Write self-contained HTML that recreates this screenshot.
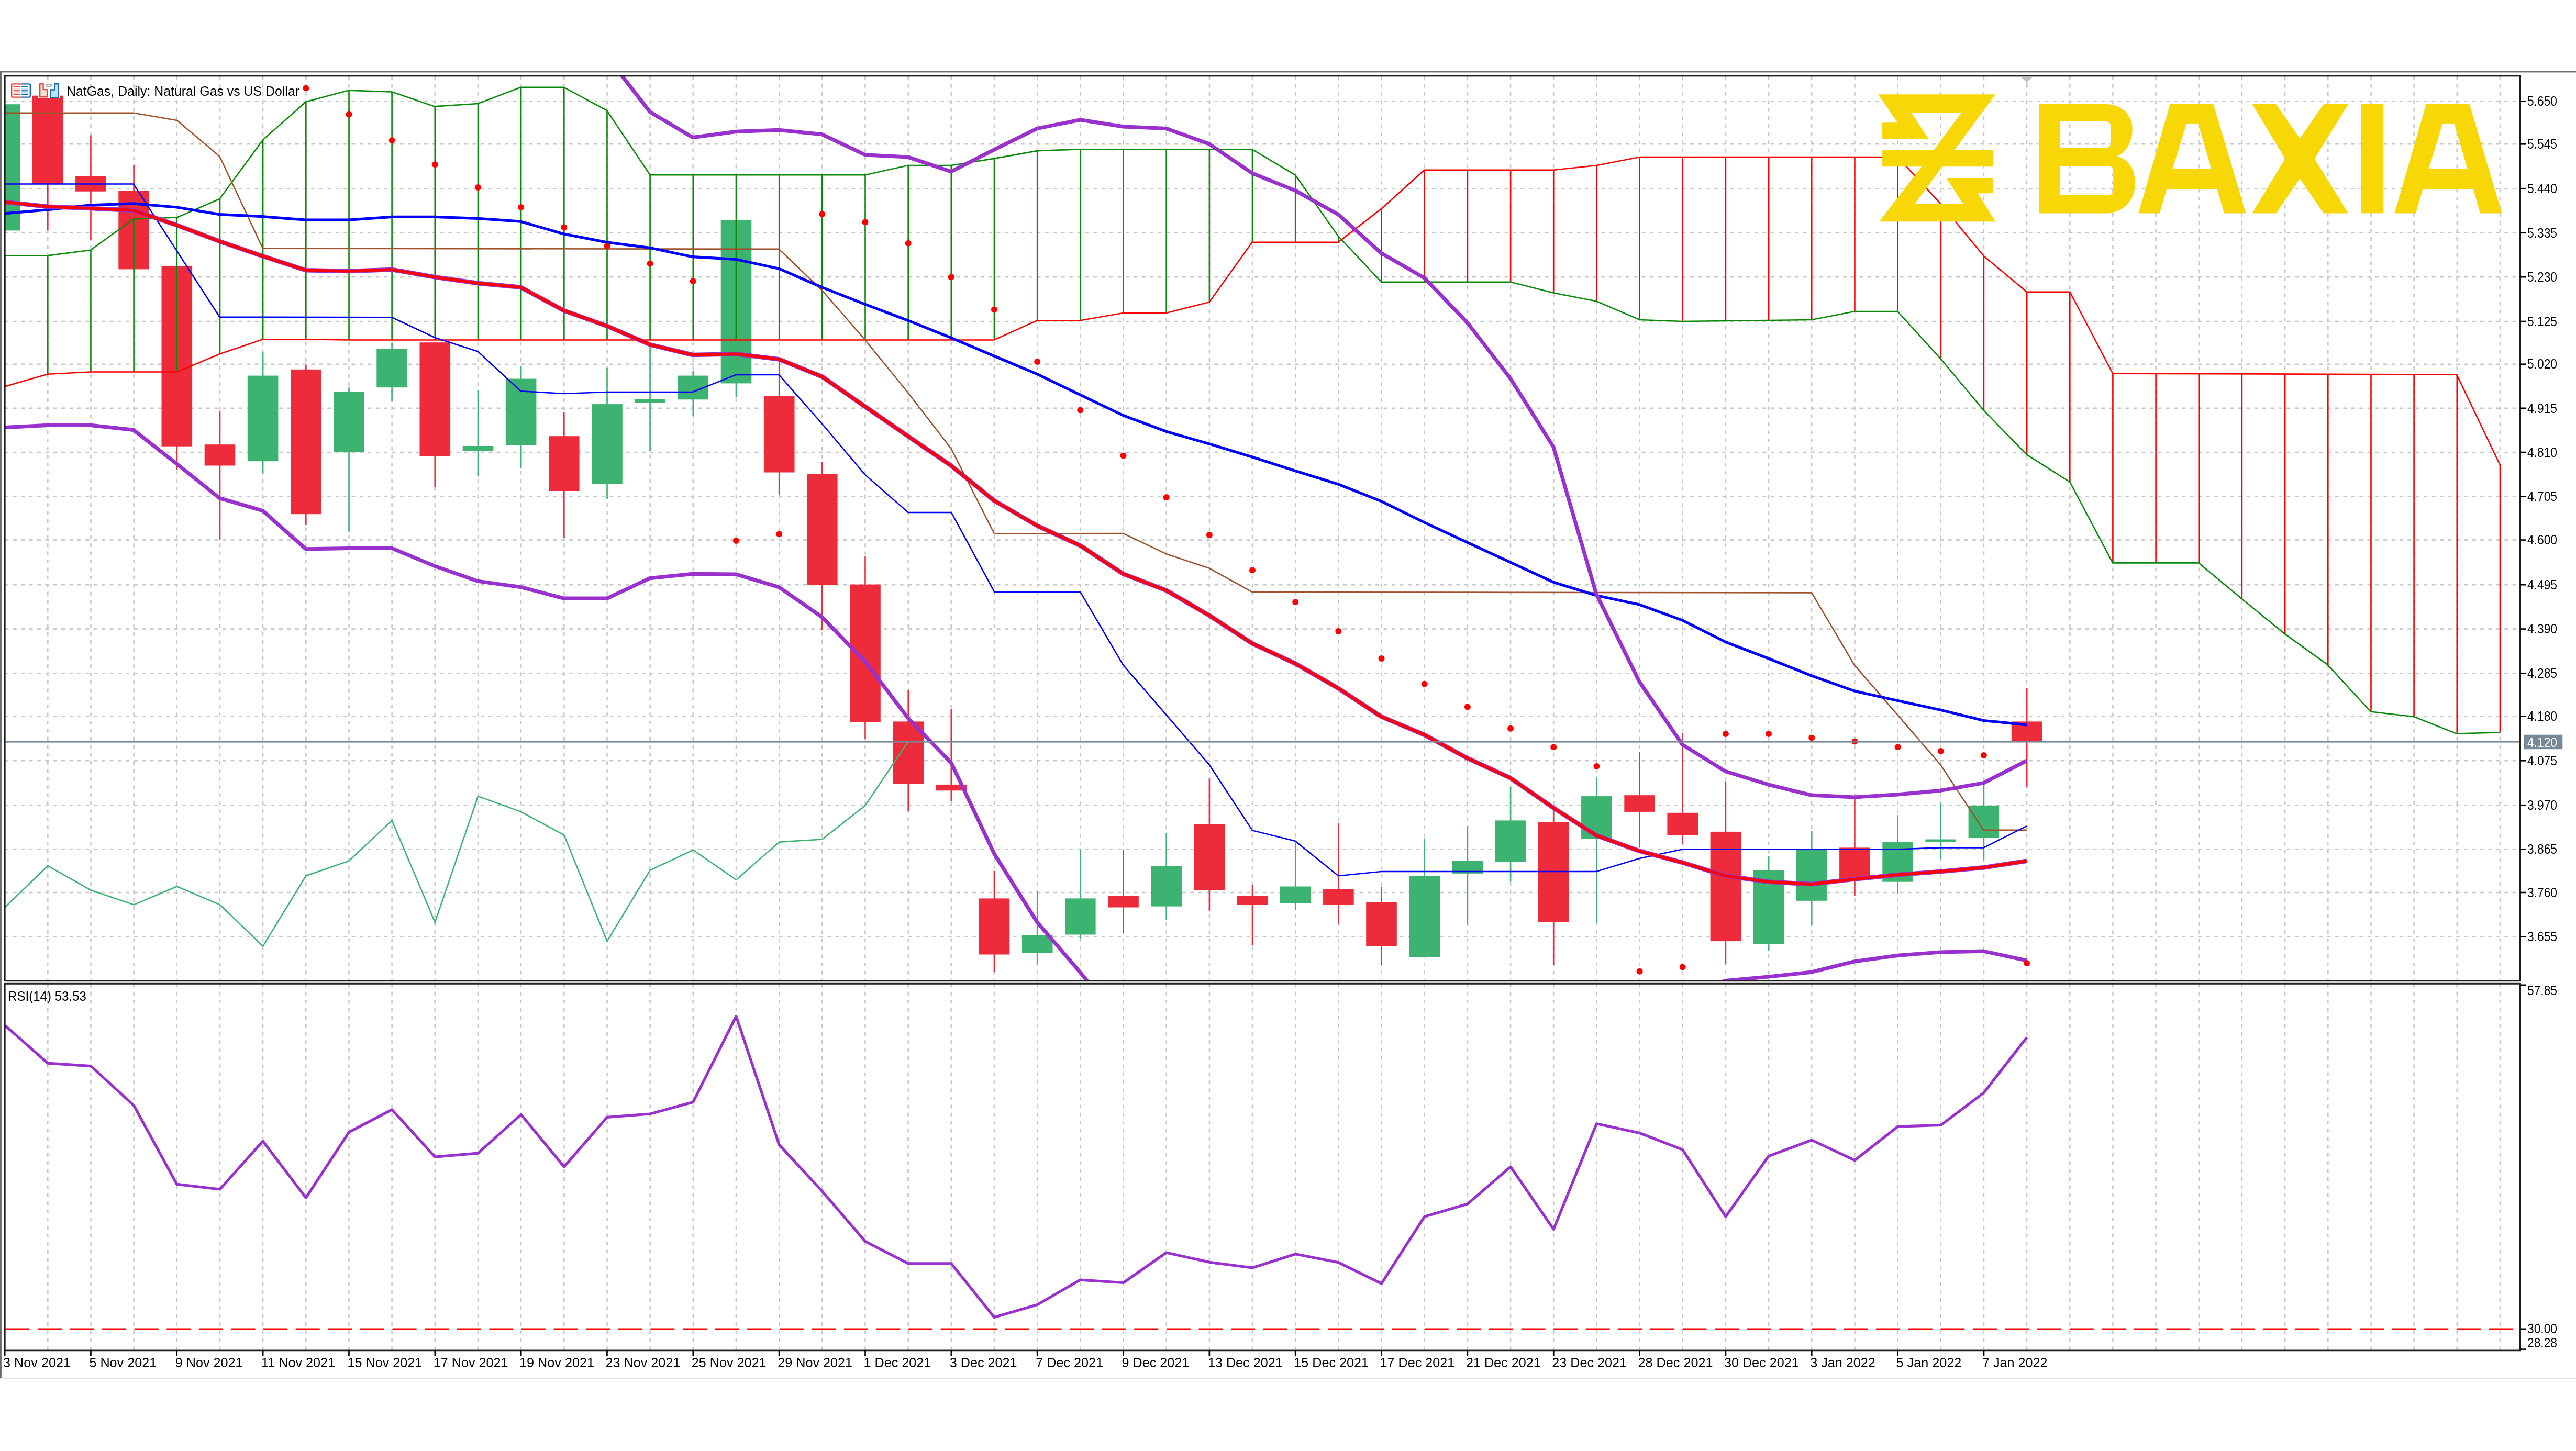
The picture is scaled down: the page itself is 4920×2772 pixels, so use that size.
<!DOCTYPE html><html><head><meta charset="utf-8"><style>html,body{margin:0;padding:0;background:#fff;}svg{display:block;filter:blur(0.6px)}</style></head><body><svg width="4920" height="2772" viewBox="0 0 4920 2772"><rect x="0" y="0" width="4920" height="2772" fill="#fff"/><defs><clipPath id="cm"><rect x="9.3" y="145.0" width="4804.0" height="1728.8"/></clipPath><clipPath id="cr"><rect x="9.3" y="1879.4" width="4804.0" height="700.5"/></clipPath></defs><rect x="0" y="135.8" width="4920" height="2.6" fill="#6A6A6A"/><rect x="0" y="135.8" width="2.9" height="2496.2" fill="#6A6A6A"/><rect x="0" y="2632.1" width="4920" height="2.5" fill="#E0E0E0"/><path d="M91.3 145.0V1873.8M91.3 1879.4V2579.9M173.4 145.0V1873.8M173.4 1879.4V2579.9M255.6 145.0V1873.8M255.6 1879.4V2579.9M337.8 145.0V1873.8M337.8 1879.4V2579.9M420.0 145.0V1873.8M420.0 1879.4V2579.9M502.1 145.0V1873.8M502.1 1879.4V2579.9M584.3 145.0V1873.8M584.3 1879.4V2579.9M666.5 145.0V1873.8M666.5 1879.4V2579.9M748.6 145.0V1873.8M748.6 1879.4V2579.9M830.8 145.0V1873.8M830.8 1879.4V2579.9M913.0 145.0V1873.8M913.0 1879.4V2579.9M995.1 145.0V1873.8M995.1 1879.4V2579.9M1077.3 145.0V1873.8M1077.3 1879.4V2579.9M1159.5 145.0V1873.8M1159.5 1879.4V2579.9M1241.6 145.0V1873.8M1241.6 1879.4V2579.9M1323.8 145.0V1873.8M1323.8 1879.4V2579.9M1406.0 145.0V1873.8M1406.0 1879.4V2579.9M1488.2 145.0V1873.8M1488.2 1879.4V2579.9M1570.3 145.0V1873.8M1570.3 1879.4V2579.9M1652.5 145.0V1873.8M1652.5 1879.4V2579.9M1734.7 145.0V1873.8M1734.7 1879.4V2579.9M1816.8 145.0V1873.8M1816.8 1879.4V2579.9M1899.0 145.0V1873.8M1899.0 1879.4V2579.9M1981.2 145.0V1873.8M1981.2 1879.4V2579.9M2063.3 145.0V1873.8M2063.3 1879.4V2579.9M2145.5 145.0V1873.8M2145.5 1879.4V2579.9M2227.7 145.0V1873.8M2227.7 1879.4V2579.9M2309.9 145.0V1873.8M2309.9 1879.4V2579.9M2392.0 145.0V1873.8M2392.0 1879.4V2579.9M2474.2 145.0V1873.8M2474.2 1879.4V2579.9M2556.4 145.0V1873.8M2556.4 1879.4V2579.9M2638.5 145.0V1873.8M2638.5 1879.4V2579.9M2720.7 145.0V1873.8M2720.7 1879.4V2579.9M2802.9 145.0V1873.8M2802.9 1879.4V2579.9M2885.1 145.0V1873.8M2885.1 1879.4V2579.9M2967.2 145.0V1873.8M2967.2 1879.4V2579.9M3049.4 145.0V1873.8M3049.4 1879.4V2579.9M3131.6 145.0V1873.8M3131.6 1879.4V2579.9M3213.7 145.0V1873.8M3213.7 1879.4V2579.9M3295.9 145.0V1873.8M3295.9 1879.4V2579.9M3378.1 145.0V1873.8M3378.1 1879.4V2579.9M3460.2 145.0V1873.8M3460.2 1879.4V2579.9M3542.4 145.0V1873.8M3542.4 1879.4V2579.9M3624.6 145.0V1873.8M3624.6 1879.4V2579.9M3706.8 145.0V1873.8M3706.8 1879.4V2579.9M3788.9 145.0V1873.8M3788.9 1879.4V2579.9M3871.1 145.0V1873.8M3871.1 1879.4V2579.9M3953.3 145.0V1873.8M3953.3 1879.4V2579.9M4035.4 145.0V1873.8M4035.4 1879.4V2579.9M4117.6 145.0V1873.8M4117.6 1879.4V2579.9M4199.8 145.0V1873.8M4199.8 1879.4V2579.9M4281.9 145.0V1873.8M4281.9 1879.4V2579.9M4364.1 145.0V1873.8M4364.1 1879.4V2579.9M4446.3 145.0V1873.8M4446.3 1879.4V2579.9M4528.5 145.0V1873.8M4528.5 1879.4V2579.9M4610.6 145.0V1873.8M4610.6 1879.4V2579.9M4692.8 145.0V1873.8M4692.8 1879.4V2579.9M4775.0 145.0V1873.8M4775.0 1879.4V2579.9" stroke="#C8C8C8" stroke-width="2.6" stroke-dasharray="7 8.4" fill="none"/><path d="M9.3 193.7H4813.3M9.3 275.3H4813.3M9.3 360.2H4813.3M9.3 444.8H4813.3M9.3 529.2H4813.3M9.3 614.0H4813.3M9.3 695.7H4813.3M9.3 779.8H4813.3M9.3 864.0H4813.3M9.3 948.7H4813.3M9.3 1031.6H4813.3M9.3 1117.2H4813.3M9.3 1201.6H4813.3M9.3 1286.5H4813.3M9.3 1368.7H4813.3M9.3 1453.3H4813.3M9.3 1538.2H4813.3M9.3 1622.5H4813.3M9.3 1705.0H4813.3M9.3 1789.3H4813.3" stroke="#C8C8C8" stroke-width="2.6" stroke-dasharray="7 8.4" fill="none"/><g clip-path="url(#cm)"><rect x="7.8" y="199.2" width="2.6" height="241.2" fill="#3CB371"/><rect x="-20.2" y="199.2" width="58.6" height="241.2" fill="#3CB371"/><rect x="90.0" y="182.7" width="2.6" height="256.5" fill="#ED2B3A"/><rect x="62.0" y="182.7" width="58.6" height="168.8" fill="#ED2B3A"/><rect x="172.1" y="258.5" width="2.6" height="199.6" fill="#ED2B3A"/><rect x="144.1" y="336.7" width="58.6" height="29.0" fill="#ED2B3A"/><rect x="254.3" y="314.8" width="2.6" height="199.6" fill="#ED2B3A"/><rect x="226.3" y="364.0" width="58.6" height="150.4" fill="#ED2B3A"/><rect x="336.5" y="507.9" width="2.6" height="389.3" fill="#ED2B3A"/><rect x="308.5" y="507.9" width="58.6" height="344.8" fill="#ED2B3A"/><rect x="418.7" y="785.8" width="2.6" height="245.8" fill="#ED2B3A"/><rect x="390.7" y="849.2" width="58.6" height="40.3" fill="#ED2B3A"/><rect x="500.8" y="673.2" width="2.6" height="231.1" fill="#3CB371"/><rect x="472.8" y="717.6" width="58.6" height="163.6" fill="#3CB371"/><rect x="583.0" y="697.0" width="2.6" height="306.1" fill="#ED2B3A"/><rect x="555.0" y="705.8" width="58.6" height="276.4" fill="#ED2B3A"/><rect x="665.2" y="739.6" width="2.6" height="276.2" fill="#3CB371"/><rect x="637.2" y="748.5" width="58.6" height="115.5" fill="#3CB371"/><rect x="747.3" y="655.0" width="2.6" height="111.2" fill="#3CB371"/><rect x="719.3" y="666.7" width="58.6" height="73.5" fill="#3CB371"/><rect x="829.5" y="654.2" width="2.6" height="276.8" fill="#ED2B3A"/><rect x="801.5" y="654.2" width="58.6" height="217.5" fill="#ED2B3A"/><rect x="911.7" y="745.5" width="2.6" height="164.7" fill="#3CB371"/><rect x="883.7" y="852.0" width="58.6" height="9.0" fill="#3CB371"/><rect x="993.8" y="700.0" width="2.6" height="194.2" fill="#3CB371"/><rect x="965.8" y="723.6" width="58.6" height="127.4" fill="#3CB371"/><rect x="1076.0" y="787.6" width="2.6" height="240.2" fill="#ED2B3A"/><rect x="1048.0" y="833.2" width="58.6" height="104.8" fill="#ED2B3A"/><rect x="1158.2" y="702.8" width="2.6" height="250.0" fill="#3CB371"/><rect x="1130.2" y="772.1" width="58.6" height="152.9" fill="#3CB371"/><rect x="1240.3" y="655.0" width="2.6" height="206.0" fill="#3CB371"/><rect x="1212.3" y="762.0" width="58.6" height="7.0" fill="#3CB371"/><rect x="1322.5" y="708.8" width="2.6" height="85.9" fill="#3CB371"/><rect x="1294.5" y="717.6" width="58.6" height="45.7" fill="#3CB371"/><rect x="1404.7" y="420.2" width="2.6" height="338.9" fill="#3CB371"/><rect x="1376.7" y="420.2" width="58.6" height="312.2" fill="#3CB371"/><rect x="1486.9" y="688.0" width="2.6" height="257.7" fill="#ED2B3A"/><rect x="1458.9" y="756.2" width="58.6" height="146.3" fill="#ED2B3A"/><rect x="1569.0" y="882.3" width="2.6" height="321.8" fill="#ED2B3A"/><rect x="1541.0" y="905.5" width="58.6" height="211.7" fill="#ED2B3A"/><rect x="1651.2" y="1062.7" width="2.6" height="348.7" fill="#ED2B3A"/><rect x="1623.2" y="1116.6" width="58.6" height="263.1" fill="#ED2B3A"/><rect x="1733.4" y="1318.2" width="2.6" height="231.4" fill="#ED2B3A"/><rect x="1705.4" y="1378.4" width="58.6" height="119.2" fill="#ED2B3A"/><rect x="1815.5" y="1354.3" width="2.6" height="176.3" fill="#ED2B3A"/><rect x="1787.5" y="1498.9" width="58.6" height="11.4" fill="#ED2B3A"/><rect x="1897.7" y="1663.7" width="2.6" height="193.4" fill="#ED2B3A"/><rect x="1869.7" y="1716.4" width="58.6" height="107.1" fill="#ED2B3A"/><rect x="1979.9" y="1701.8" width="2.6" height="139.5" fill="#3CB371"/><rect x="1951.9" y="1786.1" width="58.6" height="34.9" fill="#3CB371"/><rect x="2062.0" y="1622.5" width="2.6" height="171.2" fill="#3CB371"/><rect x="2034.0" y="1716.4" width="58.6" height="69.1" fill="#3CB371"/><rect x="2144.2" y="1622.5" width="2.6" height="160.4" fill="#ED2B3A"/><rect x="2116.2" y="1711.3" width="58.6" height="22.2" fill="#ED2B3A"/><rect x="2226.4" y="1590.8" width="2.6" height="166.8" fill="#3CB371"/><rect x="2198.4" y="1654.2" width="58.6" height="77.4" fill="#3CB371"/><rect x="2308.6" y="1487.5" width="2.6" height="252.3" fill="#ED2B3A"/><rect x="2280.6" y="1575.0" width="58.6" height="125.5" fill="#ED2B3A"/><rect x="2390.7" y="1690.4" width="2.6" height="116.0" fill="#ED2B3A"/><rect x="2362.7" y="1711.3" width="58.6" height="17.1" fill="#ED2B3A"/><rect x="2472.9" y="1609.8" width="2.6" height="128.8" fill="#3CB371"/><rect x="2444.9" y="1693.5" width="58.6" height="32.4" fill="#3CB371"/><rect x="2555.1" y="1571.8" width="2.6" height="193.4" fill="#ED2B3A"/><rect x="2527.1" y="1698.6" width="58.6" height="29.8" fill="#ED2B3A"/><rect x="2637.2" y="1694.2" width="2.6" height="149.0" fill="#ED2B3A"/><rect x="2609.2" y="1724.0" width="58.6" height="83.6" fill="#ED2B3A"/><rect x="2719.4" y="1601.6" width="2.6" height="227.0" fill="#3CB371"/><rect x="2691.4" y="1673.2" width="58.6" height="155.4" fill="#3CB371"/><rect x="2801.6" y="1578.1" width="2.6" height="188.3" fill="#3CB371"/><rect x="2773.6" y="1644.7" width="58.6" height="24.1" fill="#3CB371"/><rect x="2883.8" y="1504.0" width="2.6" height="180.6" fill="#3CB371"/><rect x="2855.8" y="1567.4" width="58.6" height="78.6" fill="#3CB371"/><rect x="2965.9" y="1543.3" width="2.6" height="299.9" fill="#ED2B3A"/><rect x="2937.9" y="1570.5" width="58.6" height="191.5" fill="#ED2B3A"/><rect x="3048.1" y="1485.0" width="2.6" height="278.9" fill="#3CB371"/><rect x="3020.1" y="1521.1" width="58.6" height="81.1" fill="#3CB371"/><rect x="3130.3" y="1436.8" width="2.6" height="182.6" fill="#ED2B3A"/><rect x="3102.3" y="1519.2" width="58.6" height="31.7" fill="#ED2B3A"/><rect x="3212.4" y="1400.6" width="2.6" height="212.4" fill="#ED2B3A"/><rect x="3184.4" y="1552.8" width="58.6" height="42.5" fill="#ED2B3A"/><rect x="3294.6" y="1492.6" width="2.6" height="348.7" fill="#ED2B3A"/><rect x="3266.6" y="1588.9" width="58.6" height="209.2" fill="#ED2B3A"/><rect x="3376.8" y="1635.2" width="2.6" height="180.7" fill="#3CB371"/><rect x="3348.8" y="1662.5" width="58.6" height="140.7" fill="#3CB371"/><rect x="3458.9" y="1587.7" width="2.6" height="180.6" fill="#3CB371"/><rect x="3430.9" y="1623.8" width="58.6" height="97.0" fill="#3CB371"/><rect x="3541.1" y="1524.3" width="2.6" height="187.0" fill="#ED2B3A"/><rect x="3513.1" y="1619.4" width="58.6" height="61.5" fill="#ED2B3A"/><rect x="3623.3" y="1557.2" width="2.6" height="150.9" fill="#3CB371"/><rect x="3595.3" y="1608.6" width="58.6" height="76.1" fill="#3CB371"/><rect x="3705.4" y="1533.8" width="2.6" height="107.7" fill="#3CB371"/><rect x="3677.4" y="1603.5" width="58.6" height="4.5" fill="#3CB371"/><rect x="3787.6" y="1498.9" width="2.6" height="144.5" fill="#3CB371"/><rect x="3759.6" y="1538.8" width="58.6" height="61.5" fill="#3CB371"/><rect x="3869.8" y="1315.0" width="2.6" height="189.0" fill="#ED2B3A"/><rect x="3841.8" y="1378.4" width="58.6" height="38.1" fill="#ED2B3A"/><path d="M9.1 488.4V738.4M91.3 488.4V714.7M173.4 477.4V710.5M255.6 418.5V710.5M337.8 415.5V710.5M420.0 379.4V676.0M502.1 267.3V648.3M584.3 194.4V648.3M666.5 172.6V649.5M748.6 175.5V649.5M830.8 203.3V649.5M913.0 197.9V649.5M995.1 166.7V649.5M1077.3 167.0V649.5M1159.5 211.8V649.5M1241.6 334.3V649.5M1323.8 334.3V649.5M1406.0 334.3V649.5M1488.2 334.3V649.5M1570.3 334.3V649.5M1652.5 334.3V649.5M1734.7 316.0V649.5M1816.8 315.9V649.5M1899.0 302.8V649.3M1981.2 288.1V612.2M2063.3 285.2V612.2M2145.5 285.2V598.0M2227.7 285.2V597.9M2309.9 285.2V577.0M2392.0 285.6V462.9M2474.2 334.9V462.9M2556.4 451.6V462.5" stroke="#0A8A0A" stroke-width="2.6" fill="none"/><path d="M2638.5 398.6V538.7M2720.7 324.8V538.7M2802.9 324.8V538.7M2885.1 324.8V538.7M2967.2 324.8V559.5M3049.4 316.0V575.5M3131.6 300.0V610.9M3213.7 300.0V614.0M3295.9 300.0V613.0M3378.1 300.0V612.0M3460.2 300.0V610.9M3542.4 300.0V595.0M3624.6 300.3V595.3M3706.8 389.6V685.8M3788.9 489.0V784.1M3871.1 557.7V868.7M3953.3 557.7V920.8M4035.4 713.5V1075.4M4117.6 713.8V1075.4M4199.8 714.0V1075.8M4281.9 714.3V1144.1M4364.1 714.6V1211.3M4446.3 714.8V1270.9M4528.5 715.1V1359.7M4610.6 715.3V1369.2M4692.8 717.0V1401.6M4775.0 888.4V1399.2" stroke="#FF0000" stroke-width="2.6" fill="none"/><polyline points="9.0,488.4 91.0,488.4 173.0,477.7 255.0,418.5 338.0,415.5 419.5,380.0 502.0,267.4 584.0,194.5 666.0,172.6 748.6,175.5 830.0,203.4 912.7,198.0 994.4,166.7 1076.8,166.7 1159.0,211.1 1241.5,334.3 1323.0,334.3 1406.0,334.3 1487.6,334.3 1570.0,334.3 1652.4,334.3 1734.1,316.0 1816.5,316.0 1898.5,302.9 1980.9,288.1 2063.2,285.2 2145.0,285.2 2227.3,285.2 2309.7,285.2 2391.4,285.2 2473.8,334.3 2555.8,451.0 2638.2,538.7 2720.5,538.7 2802.9,538.7 2885.2,538.7 2967.0,559.5 3049.3,575.5 3131.7,611.0 3213.2,614.0 3295.5,613.0 3377.9,612.0 3459.6,611.0 3542.0,595.0 3624.3,595.0 3706.1,685.0 3789.3,784.6 3871.1,868.7 3953.4,920.9 4035.1,1075.4 4117.5,1075.4 4199.3,1075.4 4281.7,1143.9 4363.6,1210.9 4445.1,1269.6 4527.8,1359.6 4610.6,1369.2 4692.1,1401.6 4775.5,1399.2" stroke="#0A8A0A" stroke-width="2.6" fill="none"/><polyline points="9.0,738.4 91.0,714.7 173.0,710.5 255.0,710.5 338.0,710.5 419.5,676.2 502.0,648.3 584.0,648.3 666.0,649.5 1898.5,649.5 1980.9,612.2 2063.2,612.2 2145.0,598.0 2227.3,598.0 2309.7,577.2 2391.4,462.9 2473.8,462.9 2555.8,462.9 2638.2,398.9 2720.5,324.8 2802.9,324.8 2885.2,324.8 2967.0,324.8 3049.3,316.0 3131.7,300.0 3213.2,300.0 3624.3,300.0 3706.1,388.8 3789.3,489.5 3871.1,557.7 3953.4,557.7 4035.2,713.5 4692.1,715.6 4775.5,889.5" stroke="#FF0000" stroke-width="2.6" fill="none"/><polyline points="9.0,215.8 255.0,215.8 338.0,230.0 419.5,298.8 502.0,474.7 1487.6,475.9 1570.0,554.7 1652.4,649.5 1734.1,750.2 1816.5,856.9 1899.0,1019.5 2145.3,1019.0 2227.7,1058.3 2309.5,1085.5 2391.9,1131.2 3460.1,1132.4 3541.9,1270.7 3624.3,1365.8 3706.1,1460.9 3788.5,1585.8 3870.9,1585.8" stroke="#A0522D" stroke-width="2.6" fill="none"/><polyline points="9.0,351.5 255.0,351.5 419.5,605.7 748.6,606.3 830.0,644.8 912.7,671.4 994.4,747.3 1076.8,752.0 1159.0,749.0 1323.0,749.0 1406.0,715.9 1487.6,715.9 1570.0,809.5 1652.4,907.2 1734.5,979.0 1817.0,979.0 1899.4,1131.2 2063.5,1131.2 2145.3,1270.7 2227.7,1365.8 2309.5,1460.9 2391.9,1586.4 2473.7,1606.7 2556.1,1673.2 2638.0,1665.0 3048.7,1665.0 3131.0,1640.0 3213.5,1622.5 3624.3,1622.5 3706.1,1619.4 3788.5,1619.4 3870.9,1578.1" stroke="#0000FF" stroke-width="2.6" fill="none"/><polyline points="9.1,1733.5 91.3,1654.2 173.4,1700.5 255.6,1728.4 337.8,1693.5 420.0,1728.4 502.1,1807.6 584.3,1673.2 666.5,1644.7 748.6,1567.4 830.8,1762.0 913.0,1521.1 995.1,1550.9 1077.3,1595.3 1159.5,1798.1 1241.6,1662.5 1323.8,1623.8 1406.0,1680.9 1488.2,1608.6 1570.3,1603.5 1652.5,1538.8 1734.7,1416.5" stroke="#3CB371" stroke-width="2.6" fill="none"/><polyline points="9.0,407.8 91.0,400.7 173.0,391.8 255.0,388.8 338.0,396.0 419.5,409.6 502.0,413.7 584.0,420.2 666.0,420.2 748.6,414.3 830.0,414.3 912.7,417.3 994.4,423.2 1076.8,446.9 1159.0,462.9 1241.5,473.5 1323.0,490.7 1406.0,495.5 1487.6,513.2 1570.0,548.8 1652.4,581.4 1734.1,612.2 1816.5,645.4 1898.5,680.0 1980.9,714.7 2063.2,754.4 2145.0,793.5 2227.3,824.3 2309.7,848.0 2391.4,872.9 2473.8,899.5 2555.8,925.0 2638.2,957.6 2720.3,998.0 2802.1,1036.1 2884.5,1074.1 2966.9,1112.2 3048.7,1137.5 3131.0,1155.0 3213.5,1185.1 3295.3,1226.3 3377.7,1258.0 3460.1,1291.0 3541.9,1320.1 3624.3,1338.5 3706.1,1356.2 3788.5,1376.5 3870.9,1384.8" stroke="#0000FF" stroke-width="5.2" fill="none" stroke-linejoin="round"/><polyline points="9.0,385.9 91.0,394.8 173.0,398.0 255.0,401.9 338.0,430.3 419.5,461.1 502.0,489.5 584.0,516.2 666.0,518.0 748.6,515.0 830.0,529.2 912.7,541.1 994.4,548.8 1076.8,593.2 1159.0,622.8 1241.5,658.4 1323.0,678.0 1406.0,676.2 1487.6,686.2 1570.0,719.4 1652.4,776.9 1734.1,833.2 1816.5,889.5 1898.7,956.4 1981.1,1004.4 2063.5,1042.4 2145.3,1096.3 2227.7,1128.0 2309.5,1175.6 2391.9,1229.4 2473.7,1267.5 2556.1,1315.0 2637.9,1368.9 2720.3,1403.8 2802.1,1448.2 2884.5,1486.2 2966.9,1543.3 3048.7,1595.9 3131.1,1625.7 3213.5,1647.9 3295.3,1673.2 3377.7,1684.7 3460.1,1689.1 3541.9,1679.6 3624.3,1671.3 3706.1,1665.0 3788.5,1657.4 3870.9,1644.7" stroke="#9932CC" stroke-width="8.6" fill="none" stroke-linejoin="round"/><polyline points="9.0,385.9 91.0,394.8 173.0,398.0 255.0,401.9 338.0,430.3 419.5,461.1 502.0,489.5 584.0,516.2 666.0,518.0 748.6,515.0 830.0,529.2 912.7,541.1 994.4,548.8 1076.8,593.2 1159.0,622.8 1241.5,658.4 1323.0,678.0 1406.0,676.2 1487.6,686.2 1570.0,719.4 1652.4,776.9 1734.1,833.2 1816.5,889.5 1898.7,956.4 1981.1,1004.4 2063.5,1042.4 2145.3,1096.3 2227.7,1128.0 2309.5,1175.6 2391.9,1229.4 2473.7,1267.5 2556.1,1315.0 2637.9,1368.9 2720.3,1403.8 2802.1,1448.2 2884.5,1486.2 2966.9,1543.3 3048.7,1595.9 3131.1,1625.7 3213.5,1647.9 3295.3,1673.2 3377.7,1684.7 3460.1,1689.1 3541.9,1679.6 3624.3,1671.3 3706.1,1665.0 3788.5,1657.4 3870.9,1644.7" stroke="#FF0000" stroke-width="5.6" fill="none" stroke-linejoin="round"/><polyline points="1159.0,107.0 1188.8,146.0 1241.5,214.0 1323.0,262.6 1406.0,251.4 1487.6,248.4 1570.0,256.7 1652.4,295.8 1734.1,300.0 1816.5,327.8 1898.5,286.0 1980.9,245.5 2063.2,228.9 2145.0,241.9 2227.3,245.5 2309.7,275.1 2391.4,330.8 2473.8,364.0 2555.8,409.6 2638.2,483.6 2720.5,531.0 2802.9,616.9 2885.2,723.6 2967.0,853.9 3048.7,1134.3 3131.1,1302.4 3213.5,1422.8 3295.3,1473.5 3377.7,1498.9 3460.1,1519.2 3541.9,1523.0 3624.3,1517.9 3706.1,1510.3 3788.5,1495.7 3870.9,1453.2" stroke="#9932CC" stroke-width="7.2" fill="none" stroke-linejoin="round"/><polyline points="9.0,816.6 91.0,812.4 173.0,812.4 255.0,821.3 338.0,886.5 419.5,951.7 502.0,975.8 584.0,1048.8 666.0,1047.5 748.7,1047.5 831.0,1081.7 912.9,1110.3 995.3,1121.7 1077.1,1143.2 1159.5,1143.2 1241.3,1104.6 1323.0,1096.3 1405.5,1097.0 1487.9,1121.7 1569.7,1178.7 1652.7,1264.3 1734.5,1372.1 1817.0,1457.7 1899.4,1632.0 1981.1,1762.0 2063.5,1858.0 2145.3,1960.0 3213.5,1900.0 3295.3,1873.6 3377.7,1866.0 3460.1,1857.1 3541.9,1836.8 3624.3,1825.4 3706.1,1819.0 3788.5,1817.2 3870.9,1834.9" stroke="#9932CC" stroke-width="7.2" fill="none" stroke-linejoin="round"/><circle cx="584.3" cy="168.4" r="6" fill="#FF0000"/><circle cx="666.5" cy="218.8" r="6" fill="#FF0000"/><circle cx="748.6" cy="268.0" r="6" fill="#FF0000"/><circle cx="830.8" cy="314.2" r="6" fill="#FF0000"/><circle cx="913.0" cy="358.0" r="6" fill="#FF0000"/><circle cx="995.1" cy="396.0" r="6" fill="#FF0000"/><circle cx="1077.3" cy="434.4" r="6" fill="#FF0000"/><circle cx="1159.5" cy="470.0" r="6" fill="#FF0000"/><circle cx="1241.6" cy="503.8" r="6" fill="#FF0000"/><circle cx="1323.8" cy="537.0" r="6" fill="#FF0000"/><circle cx="1406.0" cy="1032.9" r="6" fill="#FF0000"/><circle cx="1488.2" cy="1020.2" r="6" fill="#FF0000"/><circle cx="1570.3" cy="409.0" r="6" fill="#FF0000"/><circle cx="1652.5" cy="424.4" r="6" fill="#FF0000"/><circle cx="1734.7" cy="464.7" r="6" fill="#FF0000"/><circle cx="1816.8" cy="529.2" r="6" fill="#FF0000"/><circle cx="1899.0" cy="591.4" r="6" fill="#FF0000"/><circle cx="1981.2" cy="691.0" r="6" fill="#FF0000"/><circle cx="2063.3" cy="783.4" r="6" fill="#FF0000"/><circle cx="2145.5" cy="870.5" r="6" fill="#FF0000"/><circle cx="2227.7" cy="949.9" r="6" fill="#FF0000"/><circle cx="2309.9" cy="1022.1" r="6" fill="#FF0000"/><circle cx="2392.0" cy="1089.3" r="6" fill="#FF0000"/><circle cx="2474.2" cy="1150.2" r="6" fill="#FF0000"/><circle cx="2556.4" cy="1206.0" r="6" fill="#FF0000"/><circle cx="2638.5" cy="1258.0" r="6" fill="#FF0000"/><circle cx="2720.7" cy="1306.8" r="6" fill="#FF0000"/><circle cx="2802.9" cy="1350.5" r="6" fill="#FF0000"/><circle cx="2885.1" cy="1391.7" r="6" fill="#FF0000"/><circle cx="2967.2" cy="1427.3" r="6" fill="#FF0000"/><circle cx="3049.4" cy="1464.0" r="6" fill="#FF0000"/><circle cx="3131.6" cy="1855.8" r="6" fill="#FF0000"/><circle cx="3213.7" cy="1847.6" r="6" fill="#FF0000"/><circle cx="3295.9" cy="1401.9" r="6" fill="#FF0000"/><circle cx="3378.1" cy="1401.9" r="6" fill="#FF0000"/><circle cx="3460.2" cy="1409.5" r="6" fill="#FF0000"/><circle cx="3542.4" cy="1416.5" r="6" fill="#FF0000"/><circle cx="3624.6" cy="1427.3" r="6" fill="#FF0000"/><circle cx="3706.8" cy="1434.9" r="6" fill="#FF0000"/><circle cx="3788.9" cy="1443.1" r="6" fill="#FF0000"/><circle cx="3871.1" cy="1840.0" r="6" fill="#FF0000"/><rect x="9.3" y="1416" width="4804.0" height="2.6" fill="#778899"/></g><g clip-path="url(#cr)"><path d="M10.3 2538.8H4799" stroke="#FF0000" stroke-width="2.6" stroke-dasharray="46 15.6" fill="none"/><polyline points="9.1,1958.7 91.3,2031.2 173.4,2036.6 255.6,2111.9 337.8,2262.4 420.0,2272.0 502.1,2180.1 584.3,2288.2 666.5,2162.9 748.6,2119.9 830.8,2210.2 913.0,2203.2 995.1,2129.1 1077.3,2229.0 1159.5,2134.4 1241.6,2128.0 1323.8,2105.4 1406.0,1941.5 1488.2,2187.1 1570.3,2275.8 1652.5,2371.5 1734.7,2413.9 1816.8,2413.9 1899.0,2516.6 1981.2,2492.4 2063.3,2445.1 2145.5,2450.5 2227.7,2393.0 2309.9,2411.3 2392.0,2422.0 2474.2,2395.7 2556.4,2411.8 2638.5,2452.1 2720.7,2324.2 2802.9,2300.0 2885.1,2229.0 2967.2,2348.4 3049.4,2146.8 3131.6,2164.5 3213.7,2196.3 3295.9,2324.2 3378.1,2208.6 3460.2,2178.0 3542.4,2216.7 3624.6,2152.2 3706.8,2149.5 3788.9,2087.7 3871.1,1981.8" stroke="#9932CC" stroke-width="5.2" fill="none" stroke-linejoin="round"/></g><polygon points="3587.4,180.3 3811.1,180.3 3733.2,286.4 3806.3,286.4 3806.3,318.2 3709.7,318.2 3657.2,389.5 3749.4,389.5 3717.6,340.4 3806.3,340.4 3806.3,369.3 3777.4,369.3 3811.1,423.3 3589.3,423.3 3670.3,318.2 3595.1,318.2 3595.1,286.4 3693.6,286.4 3745.5,215.9 3651.0,215.9 3683.8,266.1 3595.1,266.1 3595.1,234.3 3624.0,234.3" fill="#F8D706"/><path d="M3894.1 199H4020C4053 199 4072.7 219 4072.7 247C4072.7 271 4061 291 4043.8 298.3C4066 305 4077.7 323 4077.7 350C4077.7 384 4055 407.5 4020 407.5H3894.1ZM3934.6 232.1H4021Q4031.4 232.1 4031.4 242.5V272.2Q4031.4 282.6 4021 282.6H3934.6ZM3934.6 317.3H4026Q4036.3 317.3 4036.3 328V362Q4036.3 372.7 4026 372.7H3934.6Z" fill="#F8D706" fill-rule="evenodd"/><path d="M4084.3 407.5L4144.7 199.0L4227.4 199.0L4289.4 407.5L4248.1 407.5L4234.8 362.0L4138.1 362.0L4124.8 407.5Z M4176.1 236.2L4198.4 236.2L4223.3 322.3L4149.6 322.3Z" fill="#F8D706" fill-rule="evenodd"/><path d="M4573.4 407.5L4633.8 199.0L4716.5 199.0L4778.5 407.5L4737.2 407.5L4723.9 362.0L4627.2 362.0L4613.9 407.5Z M4665.2 236.2L4687.5 236.2L4712.4 322.3L4638.7 322.3Z" fill="#F8D706" fill-rule="evenodd"/><polygon points="4301.6,199.0 4347.1,199.0 4392.5,264.4 4438.0,199.0 4485.2,199.0 4420.7,303.2 4485.2,407.4 4438.0,407.4 4392.5,341.3 4347.1,407.4 4301.6,407.4 4364.4,303.2" fill="#F8D706"/><rect x="4510" y="199" width="42.2" height="208.4" fill="#F8D706"/><g fill="none" stroke="#1C1C1C" stroke-width="2.7"><rect x="9.3" y="145.0" width="4804.0" height="1728.8"/><rect x="9.3" y="1879.4" width="4804.0" height="700.5"/></g><rect x="9.3" y="1875.2" width="4804.0" height="2.8" fill="#D0D0D0"/><rect x="4813.3" y="192.4" width="11.5" height="2.6" fill="#000"/><text x="4827" y="202.4" font-family="Liberation Sans, sans-serif" font-size="25.2" fill="#000" textLength="57" lengthAdjust="spacingAndGlyphs">5.650</text><rect x="4813.3" y="274.0" width="11.5" height="2.6" fill="#000"/><text x="4827" y="284.0" font-family="Liberation Sans, sans-serif" font-size="25.2" fill="#000" textLength="57" lengthAdjust="spacingAndGlyphs">5.545</text><rect x="4813.3" y="358.9" width="11.5" height="2.6" fill="#000"/><text x="4827" y="368.9" font-family="Liberation Sans, sans-serif" font-size="25.2" fill="#000" textLength="57" lengthAdjust="spacingAndGlyphs">5.440</text><rect x="4813.3" y="443.5" width="11.5" height="2.6" fill="#000"/><text x="4827" y="453.5" font-family="Liberation Sans, sans-serif" font-size="25.2" fill="#000" textLength="57" lengthAdjust="spacingAndGlyphs">5.335</text><rect x="4813.3" y="527.9" width="11.5" height="2.6" fill="#000"/><text x="4827" y="537.9" font-family="Liberation Sans, sans-serif" font-size="25.2" fill="#000" textLength="57" lengthAdjust="spacingAndGlyphs">5.230</text><rect x="4813.3" y="612.7" width="11.5" height="2.6" fill="#000"/><text x="4827" y="622.7" font-family="Liberation Sans, sans-serif" font-size="25.2" fill="#000" textLength="57" lengthAdjust="spacingAndGlyphs">5.125</text><rect x="4813.3" y="694.4" width="11.5" height="2.6" fill="#000"/><text x="4827" y="704.4" font-family="Liberation Sans, sans-serif" font-size="25.2" fill="#000" textLength="57" lengthAdjust="spacingAndGlyphs">5.020</text><rect x="4813.3" y="778.5" width="11.5" height="2.6" fill="#000"/><text x="4827" y="788.5" font-family="Liberation Sans, sans-serif" font-size="25.2" fill="#000" textLength="57" lengthAdjust="spacingAndGlyphs">4.915</text><rect x="4813.3" y="862.7" width="11.5" height="2.6" fill="#000"/><text x="4827" y="872.7" font-family="Liberation Sans, sans-serif" font-size="25.2" fill="#000" textLength="57" lengthAdjust="spacingAndGlyphs">4.810</text><rect x="4813.3" y="947.4" width="11.5" height="2.6" fill="#000"/><text x="4827" y="957.4" font-family="Liberation Sans, sans-serif" font-size="25.2" fill="#000" textLength="57" lengthAdjust="spacingAndGlyphs">4.705</text><rect x="4813.3" y="1030.3" width="11.5" height="2.6" fill="#000"/><text x="4827" y="1040.3" font-family="Liberation Sans, sans-serif" font-size="25.2" fill="#000" textLength="57" lengthAdjust="spacingAndGlyphs">4.600</text><rect x="4813.3" y="1115.9" width="11.5" height="2.6" fill="#000"/><text x="4827" y="1125.9" font-family="Liberation Sans, sans-serif" font-size="25.2" fill="#000" textLength="57" lengthAdjust="spacingAndGlyphs">4.495</text><rect x="4813.3" y="1200.3" width="11.5" height="2.6" fill="#000"/><text x="4827" y="1210.3" font-family="Liberation Sans, sans-serif" font-size="25.2" fill="#000" textLength="57" lengthAdjust="spacingAndGlyphs">4.390</text><rect x="4813.3" y="1285.2" width="11.5" height="2.6" fill="#000"/><text x="4827" y="1295.2" font-family="Liberation Sans, sans-serif" font-size="25.2" fill="#000" textLength="57" lengthAdjust="spacingAndGlyphs">4.285</text><rect x="4813.3" y="1367.4" width="11.5" height="2.6" fill="#000"/><text x="4827" y="1377.4" font-family="Liberation Sans, sans-serif" font-size="25.2" fill="#000" textLength="57" lengthAdjust="spacingAndGlyphs">4.180</text><rect x="4813.3" y="1452.0" width="11.5" height="2.6" fill="#000"/><text x="4827" y="1462.0" font-family="Liberation Sans, sans-serif" font-size="25.2" fill="#000" textLength="57" lengthAdjust="spacingAndGlyphs">4.075</text><rect x="4813.3" y="1536.9" width="11.5" height="2.6" fill="#000"/><text x="4827" y="1546.9" font-family="Liberation Sans, sans-serif" font-size="25.2" fill="#000" textLength="57" lengthAdjust="spacingAndGlyphs">3.970</text><rect x="4813.3" y="1621.2" width="11.5" height="2.6" fill="#000"/><text x="4827" y="1631.2" font-family="Liberation Sans, sans-serif" font-size="25.2" fill="#000" textLength="57" lengthAdjust="spacingAndGlyphs">3.865</text><rect x="4813.3" y="1703.7" width="11.5" height="2.6" fill="#000"/><text x="4827" y="1713.7" font-family="Liberation Sans, sans-serif" font-size="25.2" fill="#000" textLength="57" lengthAdjust="spacingAndGlyphs">3.760</text><rect x="4813.3" y="1788.0" width="11.5" height="2.6" fill="#000"/><text x="4827" y="1798.0" font-family="Liberation Sans, sans-serif" font-size="25.2" fill="#000" textLength="57" lengthAdjust="spacingAndGlyphs">3.655</text><rect x="4820" y="1403.7" width="74.3" height="27.5" fill="#778899"/><text x="4827" y="1426.8" font-family="Liberation Sans, sans-serif" font-size="25.2" fill="#fff" textLength="57" lengthAdjust="spacingAndGlyphs">4.120</text><rect x="4813.3" y="1880.5" width="11.5" height="2.6" fill="#000"/><text x="4827" y="1900.8" font-family="Liberation Sans, sans-serif" font-size="25.2" fill="#000" textLength="57" lengthAdjust="spacingAndGlyphs">57.85</text><rect x="4813.3" y="2537.5" width="11.5" height="2.6" fill="#000"/><text x="4827" y="2547.4" font-family="Liberation Sans, sans-serif" font-size="25.2" fill="#000" textLength="57" lengthAdjust="spacingAndGlyphs">30.00</text><rect x="4813.3" y="2576.3" width="11.5" height="2.6" fill="#000"/><text x="4827" y="2573.6" font-family="Liberation Sans, sans-serif" font-size="25.2" fill="#000" textLength="57" lengthAdjust="spacingAndGlyphs">28.28</text><rect x="7.8" y="2579.9" width="2.7" height="10.5" fill="#000"/><text x="6.1" y="2612" font-family="Liberation Sans, sans-serif" font-size="25.2" fill="#000">3 Nov 2021</text><rect x="172.1" y="2579.9" width="2.7" height="10.5" fill="#000"/><text x="170.4" y="2612" font-family="Liberation Sans, sans-serif" font-size="25.2" fill="#000">5 Nov 2021</text><rect x="336.4" y="2579.9" width="2.7" height="10.5" fill="#000"/><text x="334.8" y="2612" font-family="Liberation Sans, sans-serif" font-size="25.2" fill="#000">9 Nov 2021</text><rect x="500.8" y="2579.9" width="2.7" height="10.5" fill="#000"/><text x="499.1" y="2612" font-family="Liberation Sans, sans-serif" font-size="25.2" fill="#000">11 Nov 2021</text><rect x="665.1" y="2579.9" width="2.7" height="10.5" fill="#000"/><text x="663.5" y="2612" font-family="Liberation Sans, sans-serif" font-size="25.2" fill="#000">15 Nov 2021</text><rect x="829.5" y="2579.9" width="2.7" height="10.5" fill="#000"/><text x="827.8" y="2612" font-family="Liberation Sans, sans-serif" font-size="25.2" fill="#000">17 Nov 2021</text><rect x="993.8" y="2579.9" width="2.7" height="10.5" fill="#000"/><text x="992.1" y="2612" font-family="Liberation Sans, sans-serif" font-size="25.2" fill="#000">19 Nov 2021</text><rect x="1158.1" y="2579.9" width="2.7" height="10.5" fill="#000"/><text x="1156.5" y="2612" font-family="Liberation Sans, sans-serif" font-size="25.2" fill="#000">23 Nov 2021</text><rect x="1322.5" y="2579.9" width="2.7" height="10.5" fill="#000"/><text x="1320.8" y="2612" font-family="Liberation Sans, sans-serif" font-size="25.2" fill="#000">25 Nov 2021</text><rect x="1486.8" y="2579.9" width="2.7" height="10.5" fill="#000"/><text x="1485.2" y="2612" font-family="Liberation Sans, sans-serif" font-size="25.2" fill="#000">29 Nov 2021</text><rect x="1651.2" y="2579.9" width="2.7" height="10.5" fill="#000"/><text x="1649.5" y="2612" font-family="Liberation Sans, sans-serif" font-size="25.2" fill="#000">1 Dec 2021</text><rect x="1815.5" y="2579.9" width="2.7" height="10.5" fill="#000"/><text x="1813.8" y="2612" font-family="Liberation Sans, sans-serif" font-size="25.2" fill="#000">3 Dec 2021</text><rect x="1979.8" y="2579.9" width="2.7" height="10.5" fill="#000"/><text x="1978.2" y="2612" font-family="Liberation Sans, sans-serif" font-size="25.2" fill="#000">7 Dec 2021</text><rect x="2144.2" y="2579.9" width="2.7" height="10.5" fill="#000"/><text x="2142.5" y="2612" font-family="Liberation Sans, sans-serif" font-size="25.2" fill="#000">9 Dec 2021</text><rect x="2308.5" y="2579.9" width="2.7" height="10.5" fill="#000"/><text x="2306.9" y="2612" font-family="Liberation Sans, sans-serif" font-size="25.2" fill="#000">13 Dec 2021</text><rect x="2472.8" y="2579.9" width="2.7" height="10.5" fill="#000"/><text x="2471.2" y="2612" font-family="Liberation Sans, sans-serif" font-size="25.2" fill="#000">15 Dec 2021</text><rect x="2637.2" y="2579.9" width="2.7" height="10.5" fill="#000"/><text x="2635.5" y="2612" font-family="Liberation Sans, sans-serif" font-size="25.2" fill="#000">17 Dec 2021</text><rect x="2801.5" y="2579.9" width="2.7" height="10.5" fill="#000"/><text x="2799.9" y="2612" font-family="Liberation Sans, sans-serif" font-size="25.2" fill="#000">21 Dec 2021</text><rect x="2965.9" y="2579.9" width="2.7" height="10.5" fill="#000"/><text x="2964.2" y="2612" font-family="Liberation Sans, sans-serif" font-size="25.2" fill="#000">23 Dec 2021</text><rect x="3130.2" y="2579.9" width="2.7" height="10.5" fill="#000"/><text x="3128.6" y="2612" font-family="Liberation Sans, sans-serif" font-size="25.2" fill="#000">28 Dec 2021</text><rect x="3294.6" y="2579.9" width="2.7" height="10.5" fill="#000"/><text x="3292.9" y="2612" font-family="Liberation Sans, sans-serif" font-size="25.2" fill="#000">30 Dec 2021</text><rect x="3458.9" y="2579.9" width="2.7" height="10.5" fill="#000"/><text x="3457.2" y="2612" font-family="Liberation Sans, sans-serif" font-size="25.2" fill="#000">3 Jan 2022</text><rect x="3623.2" y="2579.9" width="2.7" height="10.5" fill="#000"/><text x="3621.6" y="2612" font-family="Liberation Sans, sans-serif" font-size="25.2" fill="#000">5 Jan 2022</text><rect x="3787.6" y="2579.9" width="2.7" height="10.5" fill="#000"/><text x="3785.9" y="2612" font-family="Liberation Sans, sans-serif" font-size="25.2" fill="#000">7 Jan 2022</text><text x="127" y="182.8" font-family="Liberation Sans, sans-serif" font-size="26" fill="#000" textLength="445" lengthAdjust="spacingAndGlyphs">NatGas, Daily:  Natural Gas vs US Dollar</text><text x="15" y="1912" font-family="Liberation Sans, sans-serif" font-size="26" fill="#000" textLength="150" lengthAdjust="spacingAndGlyphs">RSI(14) 53.53</text><rect x="73" y="157" width="41" height="31" fill="#fff"/><g stroke-width="2.4" fill="none" stroke-linejoin="round"><rect x="27" y="168" width="12" height="13" fill="#FFE0D8"/><rect x="41" y="168" width="13" height="13" fill="#BDE3FF"/><path d="M40 160.4H24Q22.2 160.4 22.2 162.2V183.8Q22.2 185.6 24 185.6H40" stroke="#E04A3C"/><path d="M40 160.4H56Q57.8 160.4 57.8 162.2V183.8Q57.8 185.6 56 185.6H40" stroke="#1A6AB0"/><path d="M26.5 165.6H37.5M26.5 173.3H37.5M26.5 180.7H37.5" stroke="#E04A3C" stroke-width="2.1" stroke-linecap="round"/><path d="M42 165.6H53M42 173.3H53M42 180.7H53" stroke="#1A6AB0" stroke-width="2.1" stroke-linecap="round"/><path d="M76.2 160.2H82.7V171.1H90V185.3H76.2Z" fill="#FFE0D8" stroke="#E04A3C"/><path d="M104.4 160.2H111.3V186.1H96.3V171.5H104.4Z" fill="#BDE3FF" stroke="#1A6AB0"/><rect x="88.6" y="161.3" width="9.5" height="3.8" rx="1.5" fill="#fff" stroke="#A8A8A8" stroke-width="2"/></g><polygon points="3859,146.5 3883,146.5 3871,157" fill="#C0C0C0"/><rect x="3869.8" y="155" width="2.5" height="11" fill="#C4C4C4"/></svg></body></html>
